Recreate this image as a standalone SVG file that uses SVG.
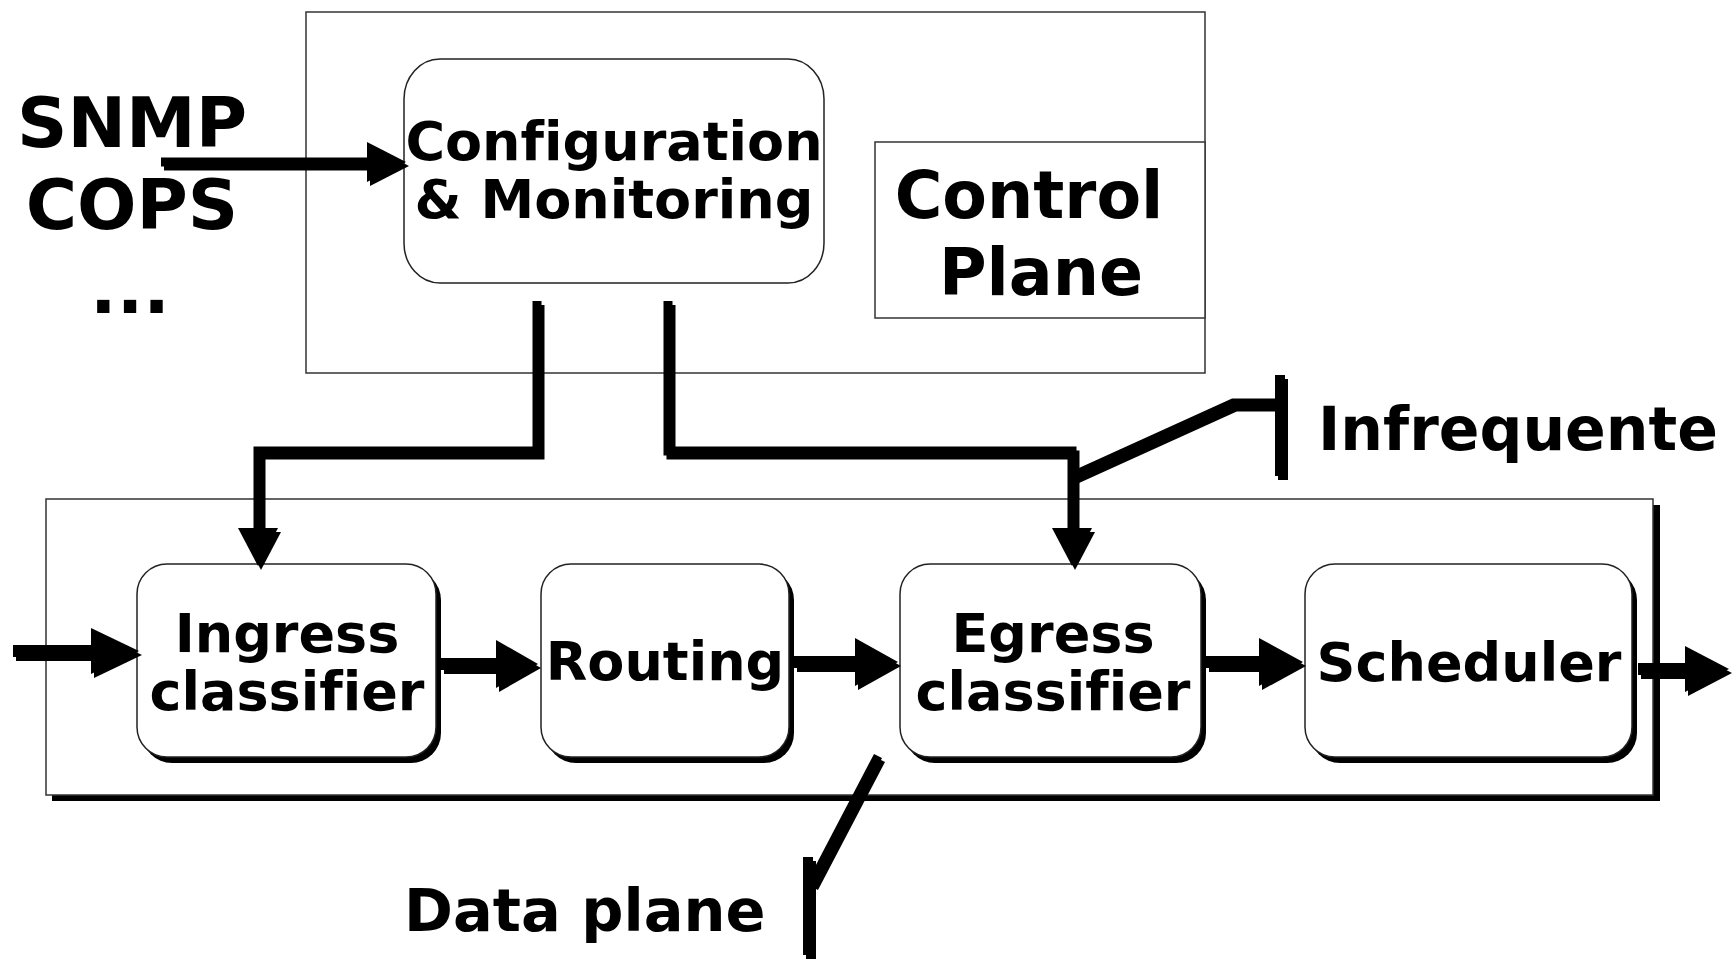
<svg xmlns="http://www.w3.org/2000/svg" xmlns:xlink="http://www.w3.org/1999/xlink" width="1734" height="959" viewBox="0 0 1734 959">
<style>
  text { font-family: "DejaVu Sans", "Verdana", sans-serif; font-weight: bold; fill: #000; font-variant-ligatures: none; }
  .lbl { font-size: 54px; text-anchor: middle; }
  .frame { fill: #fff; stroke: #333; stroke-width: 1.5; }
  .node { fill: #fff; stroke: #222; stroke-width: 1.5; }
  .shadow { fill: #000; }
  .ctl { fill: none; stroke: #000; stroke-width: 9; stroke-linejoin: miter; }
  .dat { fill: none; stroke: #000; stroke-width: 12; }
  .head { fill: #000; }
</style>
<rect width="1734" height="959" fill="#fff"/>

<g id="control-plane-frame">
  <rect class="frame" x="306" y="12" width="899" height="361"/>
</g>
<g id="control-plane-label">
  <rect class="frame" x="875" y="142" width="330" height="176"/>
  <text x="1029" y="218" style="font-size:65px;text-anchor:middle">Control</text>
  <text x="1041" y="295" style="font-size:65px;text-anchor:middle">Plane</text>
</g>
<g id="config-monitoring">
  <rect class="node" x="404" y="59" width="420" height="224" rx="36" ry="40"/>
  <text class="lbl" x="614" y="160">Configuration</text>
  <text class="lbl" x="614" y="218">&amp; Monitoring</text>
</g>

<g id="data-plane-frame">
  <rect class="shadow" x="52" y="505" width="1608" height="296"/>
  <rect class="frame" x="46" y="499" width="1607" height="296"/>
</g>

<g id="ingress">
  <rect class="shadow" x="142" y="570" width="299" height="193" rx="30"/>
  <rect class="node" x="137" y="564" width="299" height="193" rx="30"/>
  <text class="lbl" x="287" y="652">Ingress</text>
  <text class="lbl" x="287" y="710">classifier</text>
</g>
<g id="routing">
  <rect class="shadow" x="546" y="570" width="248" height="193" rx="30"/>
  <rect class="node" x="541" y="564" width="248" height="193" rx="30"/>
  <text class="lbl" x="665" y="680">Routing</text>
</g>
<g id="egress">
  <rect class="shadow" x="905" y="570" width="301" height="193" rx="30"/>
  <rect class="node" x="900" y="564" width="301" height="193" rx="30"/>
  <text class="lbl" x="1053" y="652">Egress</text>
  <text class="lbl" x="1053" y="710">classifier</text>
</g>
<g id="scheduler">
  <rect class="shadow" x="1310" y="570" width="327" height="193" rx="30"/>
  <rect class="node" x="1305" y="564" width="327" height="193" rx="30"/>
  <text class="lbl" x="1469" y="681">Scheduler</text>
</g>

<g id="connectors">
  <use xlink:href="#conn-main" href="#conn-main" transform="translate(3,4)"/>
  <g id="conn-main">
    <path class="ctl" d="M161,162 H369"/>
    <polygon class="head" points="367,142 406,162 367,182"/>
    <path class="ctl" d="M537,301 V451 H258 V530"/>
    <polygon class="head" points="238,528 278,528 258,566"/>
    <path class="ctl" d="M668,301 V451 H1072 V530"/>
    <polygon class="head" points="1052,528 1092,528 1072,566"/>
    <path class="ctl" d="M1072,476 L1233,403 H1280"/>
    <path class="ctl" style="stroke-width:10" d="M1280,375 V476"/>
    <path class="ctl" d="M878,756 L811,884"/>
    <path class="ctl" style="stroke-width:10" d="M808,857 V955"/>
    <path class="dat" d="M13,651 H95"/>
    <polygon class="head" points="91,628 139,651 91,674"/>
    <path class="dat" d="M441,664 H500"/>
    <polygon class="head" points="496,640 538,664 496,688"/>
    <path class="dat" d="M794,662 H860"/>
    <polygon class="head" points="855,638 898,662 855,686"/>
    <path class="dat" d="M1206,662 H1263"/>
    <polygon class="head" points="1259,638 1303,662 1259,686"/>
    <path class="dat" d="M1638,669 H1690"/>
    <polygon class="head" points="1685,646 1729,669 1685,692"/>
  </g>
</g>

<g id="labels">
  <text x="132" y="147" style="font-size:70px;text-anchor:middle">SNMP</text>
  <text x="132" y="229" style="font-size:70px;text-anchor:middle">COPS</text>
  <text x="130" y="313" style="font-size:70px;text-anchor:middle">...</text>
  <text x="1318" y="450" style="font-size:60px">Infrequente</text>
  <text x="404" y="931" style="font-size:59px">Data plane</text>
</g>
</svg>
